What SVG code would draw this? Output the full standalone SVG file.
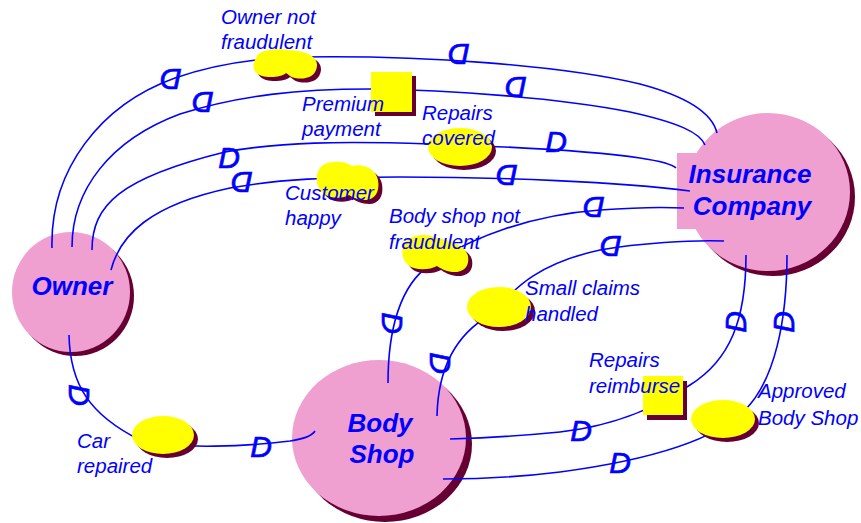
<svg xmlns="http://www.w3.org/2000/svg" xmlns:xlink="http://www.w3.org/1999/xlink" width="861" height="523" viewBox="0 0 861 523">
<style>
.bg{fill:#ffffff}
.node{fill:#f0a0d0}
.shadow{fill:#660033}
.cond{fill:#ffff00}
.conn{fill:none;stroke:#0000ff;stroke-width:1.6}
.title{font-family:"Liberation Sans",Arial,sans-serif;font-weight:bold;font-style:italic;font-size:26px;fill:#0000ff;text-anchor:middle}
.lbl{font-family:"Liberation Sans",Arial,sans-serif;font-style:italic;font-size:20.5px;fill:#0000ff}
.dg{font-family:"Liberation Sans",Arial,sans-serif;font-style:italic;font-size:30px;fill:#0000ff;stroke:#0000ff;stroke-width:0.7;text-anchor:middle}
</style>
<defs>
<path id="cloud1" d="M256,58 C258,50 275,48 290,50 C305,51 318,56 317,66 C316,77 305,80 295,78 C290,77 288,74 286,73 C282,77 270,78 262,76 C252,73 252,64 256,58 Z"/>
<path id="cloud2" d="M320,168 C325,160 345,160 352,166 C362,163 376,168 378,180 C380,192 375,200 365,200 C358,200 352,197 349,195 C343,199 330,199 323,193 C315,186 315,175 320,168 Z"/>
<path id="cloud3" d="M405,243 C410,234 428,233 437,238 C450,240 466,246 468,256 C470,268 462,273 452,272 C445,271 440,268 437,266 C430,270 415,271 408,265 C401,258 401,249 405,243 Z"/>
</defs>
<rect class="bg" x="0" y="0" width="861" height="523"/>

<g id="owner">
<ellipse class="shadow" cx="75" cy="296" rx="59" ry="60"/>
<ellipse class="node" cx="71" cy="292" rx="59" ry="60"/>
<text class="title" x="72" y="295">Owner</text>
</g>

<g id="insurance-company">
<ellipse class="shadow" cx="773" cy="197" rx="82" ry="79"/>
<ellipse class="node" cx="768" cy="192" rx="82" ry="79"/>
<rect class="node" x="677" y="153" width="120" height="76"/>
<text class="title" x="750" y="183">Insurance</text>
<text class="title" x="752" y="215">Company</text>
</g>

<g id="body-shop">
<ellipse class="shadow" cx="385" cy="444" rx="87" ry="78"/>
<ellipse class="node" cx="379" cy="438" rx="87" ry="78"/>
<text class="title" x="380" y="432">Body</text>
<text class="title" x="382" y="463">Shop</text>
</g>

<g id="connectors">
<path class="conn" d="M52,248 C50,170 100,105 175,78 C215,64 260,58 300,57 C420,55 560,65 640,84 C685,96 712,112 717,133"/>
<path class="conn" d="M72,247 C72,190 110,140 180,114 C240,95 300,89 370,89 C450,90 560,98 630,112 C680,123 700,133 705,145"/>
<path class="conn" d="M92,250 C92,205 120,178 225,152 C280,142 340,141 430,144 C520,147 600,152 640,158 C660,161 672,164 676,168"/>
<path class="conn" d="M111,270 C120,235 150,205 230,188 C280,179 330,177 400,177 C500,177 620,182 690,191"/>
<path class="conn" d="M388,383 C388,330 400,285 430,265 C470,238 530,215 600,210 C640,207 665,207 684,208"/>
<path class="conn" d="M437,416 C438,370 455,335 490,315 C510,295 530,265 600,250 C640,243 690,240 724,241"/>
<path class="conn" d="M746,255 C746,320 730,360 690,385 C660,405 620,425 560,432 C520,436 480,438 450,439"/>
<path class="conn" d="M787,255 C787,320 775,380 745,410 C715,440 650,460 560,472 C520,477 480,479 443,479"/>
<path class="conn" d="M69,335 C70,385 90,415 140,440 C180,450 250,446 290,441 C303,439 312,436 315,431"/>
<text class="dg" transform="translate(171,80) rotate(180)" y="11">D</text>
<text class="dg" transform="translate(203,103) rotate(180)" y="11">D</text>
<text class="dg" transform="translate(229,157)" y="11">D</text>
<text class="dg" transform="translate(242,183) rotate(180)" y="11">D</text>
<text class="dg" transform="translate(459,55) rotate(180)" y="11">D</text>
<text class="dg" transform="translate(516,88) rotate(180)" y="11">D</text>
<text class="dg" transform="translate(556,141)" y="11">D</text>
<text class="dg" transform="translate(507,176) rotate(180)" y="11">D</text>
<text class="dg" transform="translate(594,208) rotate(180)" y="11">D</text>
<text class="dg" transform="translate(611,247) rotate(180)" y="11">D</text>
<text class="dg" transform="translate(393,323) rotate(90)" y="11">D</text>
<text class="dg" transform="translate(441,363) rotate(90)" y="11">D</text>
<text class="dg" transform="translate(735,322) rotate(-90)" y="11">D</text>
<text class="dg" transform="translate(783,322) rotate(-90)" y="11">D</text>
<text class="dg" transform="translate(80,395) rotate(90)" y="11">D</text>
<text class="dg" transform="translate(261,446)" y="11">D</text>
<text class="dg" transform="translate(581,430)" y="11">D</text>
<text class="dg" transform="translate(620,462)" y="11">D</text>
</g>

<g id="owner-not-fraudulent">
<use xlink:href="#cloud1" class="shadow" transform="translate(4,4)"/>
<use xlink:href="#cloud1" class="cond"/>
<text class="lbl" x="221" y="24">Owner not</text>
<text class="lbl" x="221" y="49">fraudulent</text>
</g>

<g id="premium-payment">
<rect class="shadow" x="375" y="76" width="41" height="40"/>
<rect class="cond" x="371" y="72" width="41" height="40"/>
<text class="lbl" x="302" y="111">Premium</text>
<text class="lbl" x="302" y="136">payment</text>
</g>

<g id="repairs-covered">
<ellipse class="shadow" cx="464" cy="151" rx="32" ry="19"/>
<ellipse class="cond" cx="460" cy="147" rx="32" ry="19"/>
<text class="lbl" x="422" y="120">Repairs</text>
<text class="lbl" x="422" y="145">covered</text>
</g>

<g id="customer-happy">
<use xlink:href="#cloud2" class="shadow" transform="translate(4,4)"/>
<use xlink:href="#cloud2" class="cond"/>
<text class="lbl" x="285" y="200">Customer</text>
<text class="lbl" x="285" y="225">happy</text>
</g>

<g id="body-shop-not-fraudulent">
<use xlink:href="#cloud3" class="shadow" transform="translate(4,4)"/>
<use xlink:href="#cloud3" class="cond"/>
<text class="lbl" x="389" y="223">Body shop not</text>
<text class="lbl" x="389" y="249">fraudulent</text>
</g>

<g id="small-claims-handled">
<ellipse class="shadow" cx="503" cy="311" rx="32" ry="20"/>
<ellipse class="cond" cx="499" cy="307" rx="32" ry="20"/>
<text class="lbl" x="525" y="295">Small claims</text>
<text class="lbl" x="525" y="321">handled</text>
</g>

<g id="repairs-reimburse">
<rect class="shadow" x="647" y="381" width="40" height="39"/>
<rect class="cond" x="643" y="376" width="40" height="39"/>
<text class="lbl" x="589" y="367">Repairs</text>
<text class="lbl" x="589" y="393">reimburse</text>
</g>

<g id="approved-body-shop">
<ellipse class="shadow" cx="727" cy="423" rx="32" ry="19"/>
<ellipse class="cond" cx="723" cy="419" rx="32" ry="19"/>
<text class="lbl" x="758" y="398">Approved</text>
<text class="lbl" x="758" y="425">Body Shop</text>
</g>

<g id="car-repaired">
<ellipse class="shadow" cx="167" cy="439" rx="31" ry="19"/>
<ellipse class="cond" cx="163" cy="435" rx="31" ry="19"/>
<text class="lbl" x="77" y="448">Car</text>
<text class="lbl" x="77" y="473">repaired</text>
</g>
</svg>
